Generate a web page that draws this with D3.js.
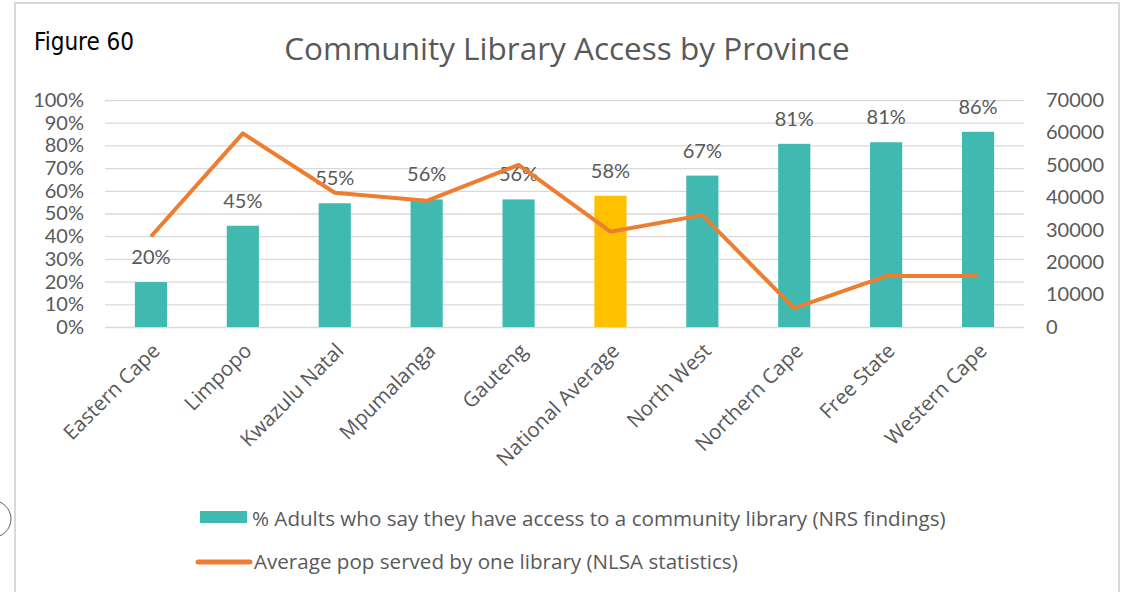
<!DOCTYPE html>
<head>
<meta charset="utf-8">
<style>
  body { margin: 0; background: #fff; }
  .tick text { fill: #595959; font-family: Lato, "Open Sans", sans-serif; }
  .xaxis .tick text { font-family: "Open Sans", Lato, sans-serif; }
  .grid line { stroke: #d9d9d9; stroke-width: 1.3px; }
  .line { fill: none; stroke: #ed7d31; stroke-width: 4px; stroke-linejoin: round; }
  .label { fill: #595959; font-family: Lato, "Open Sans", sans-serif; font-size: 20px; text-anchor: middle; }
  .legend { fill: #595959; font-family: "Open Sans", Lato, sans-serif; font-size: 20.6px; }
</style>
</head>
<body>
<script src="https://d3js.org/d3.v7.min.js"></script>
<script>
// chart data
var categories = ["Eastern Cape", "Limpopo", "Kwazulu Natal", "Mpumalanga", "Gauteng",
                  "National Average", "North West", "Northern Cape", "Free State", "Western Cape"];
var accessPct = [0.198, 0.446, 0.545, 0.562, 0.562, 0.578, 0.667, 0.807, 0.814, 0.86];
var popServed = [27900, 59700, 41400, 38900, 50000, 29400, 34500, 5800, 15700, 15700];
var leftTicks = [0, 0.1, 0.2, 0.3, 0.4, 0.5, 0.6, 0.7, 0.8, 0.9, 1];
var rightTicks = [0, 10000, 20000, 30000, 40000, 50000, 60000, 70000];
var barLegend = "% Adults who say they have access to a community library (NRS findings)";
var lineLegend = "Average pop served by one library (NLSA statistics)";
var highlightCategory = "National Average";

var data = categories.map(function(c, i) {
  return {cat: c, pct: accessPct[i], pop: popServed[i]};
});

var W = 1128, H = 592;
var margin = {top: 100, right: 104, bottom: 265, left: 105},
    width = W - margin.left - margin.right,
    height = H - margin.top - margin.bottom;

var svgRoot = d3.select("body").append("svg")
    .attr("width", W)
    .attr("height", H);

// outer frame + the stray circle on the left edge
svgRoot.append("rect")
    .attr("x", 15).attr("y", 3)
    .attr("width", 1104).attr("height", 600)
    .attr("fill", "#fff")
    .attr("stroke", "#d9d9d9")
    .attr("stroke-width", 2);
svgRoot.append("ellipse")
    .attr("cx", -9).attr("cy", 519)
    .attr("rx", 20).attr("ry", 19)
    .attr("fill", "none")
    .attr("stroke", "#606060")
    .attr("stroke-width", 1);

svgRoot.append("text")
    .attr("x", 34).attr("y", 50)
    .style("font-family", "'DejaVu Sans Condensed', 'DejaVu Sans', sans-serif")
    .style("font-stretch", "condensed")
    .style("font-size", "24px")
    .style("fill", "#000")
    .text("Figure 60");

svgRoot.append("text")
    .attr("x", 567).attr("y", 60)
    .attr("text-anchor", "middle")
    .style("font-family", "'Open Sans', Lato, sans-serif")
    .style("font-size", "31.5px")
    .style("fill", "#595959")
    .text("Community Library Access by Province");

var svg = svgRoot.append("g")
    .attr("transform", "translate(" + margin.left + "," + margin.top + ")");

// scales
var x = d3.scaleBand().domain(categories).range([0, width]).paddingInner(0.65).paddingOuter(0.325);
var xc = function(c) { return x(c) + x.bandwidth() / 2; };
var y1 = d3.scaleLinear().domain([0, 1]).range([height, 0]);
var y2 = d3.scaleLinear().domain([0, 70000]).range([height, 0]);

// gridlines
svg.append("g")
    .attr("class", "grid")
    .call(d3.axisLeft(y1).tickValues(leftTicks).tickSize(-width).tickFormat(""))
    .call(function(g) { g.select(".domain").remove(); });

// left axis
svg.append("g")
    .call(d3.axisLeft(y1).tickValues(leftTicks).tickFormat(d3.format(".0%")).tickSize(0).tickPadding(21))
    .call(function(g) { g.select(".domain").remove(); })
    .selectAll("text").style("font-size", "20px");

// right axis
svg.append("g")
    .attr("transform", "translate(" + width + ",0)")
    .call(d3.axisRight(y2).tickValues(rightTicks).tickFormat(d3.format("d")).tickSize(0).tickPadding(22))
    .call(function(g) { g.select(".domain").remove(); })
    .selectAll("text").style("font-size", "20px");

// x axis labels, rotated
svg.append("g")
    .attr("class", "xaxis")
    .attr("transform", "translate(0," + height + ")")
    .call(d3.axisBottom(x).tickSize(0).tickPadding(0))
    .call(function(g) { g.select(".domain").remove(); })
    .selectAll("text")
    .style("font-size", "20.5px")
    .attr("text-anchor", "end")
    .attr("dy", "0.35em")
    .attr("transform", "translate(5,20) rotate(-45)");

// bars
svg.selectAll(".bar")
    .data(data)
  .enter().append("rect")
    .attr("class", "bar")
    .attr("x", function(d) { return x(d.cat); })
    .attr("width", x.bandwidth())
    .attr("y", function(d) { return y1(d.pct); })
    .attr("height", function(d) { return height - y1(d.pct); })
    .attr("fill", function(d) { return d.cat === highlightCategory ? "#ffc000" : "#40bab0"; });

// bar labels
svg.selectAll(".label")
    .data(data)
  .enter().append("text")
    .attr("class", "label")
    .attr("x", function(d) { return xc(d.cat); })
    .attr("y", function(d) { return y1(d.pct) - 18; })
    .text(function(d) { return d3.format(".0%")(d.pct); });

// population line
var popLine = d3.line()
    .x(function(d) { return xc(d.cat); })
    .y(function(d) { return y2(d.pop); });

svg.append("path")
    .datum(data)
    .attr("class", "line")
    .attr("d", popLine);

// legend
var lg = svgRoot.append("g");
lg.append("rect")
    .attr("x", 200).attr("y", 511)
    .attr("width", 47).attr("height", 12)
    .attr("fill", "#40bab0");
lg.append("text")
    .attr("class", "legend")
    .attr("x", 252).attr("y", 526)
    .text(barLegend);
lg.append("line")
    .attr("x1", 198).attr("x2", 250)
    .attr("y1", 562).attr("y2", 562)
    .attr("stroke", "#ed7d31")
    .attr("stroke-width", 5)
    .attr("stroke-linecap", "round");
lg.append("text")
    .attr("class", "legend")
    .attr("x", 254).attr("y", 569)
    .text(lineLegend);
</script>
</body>
